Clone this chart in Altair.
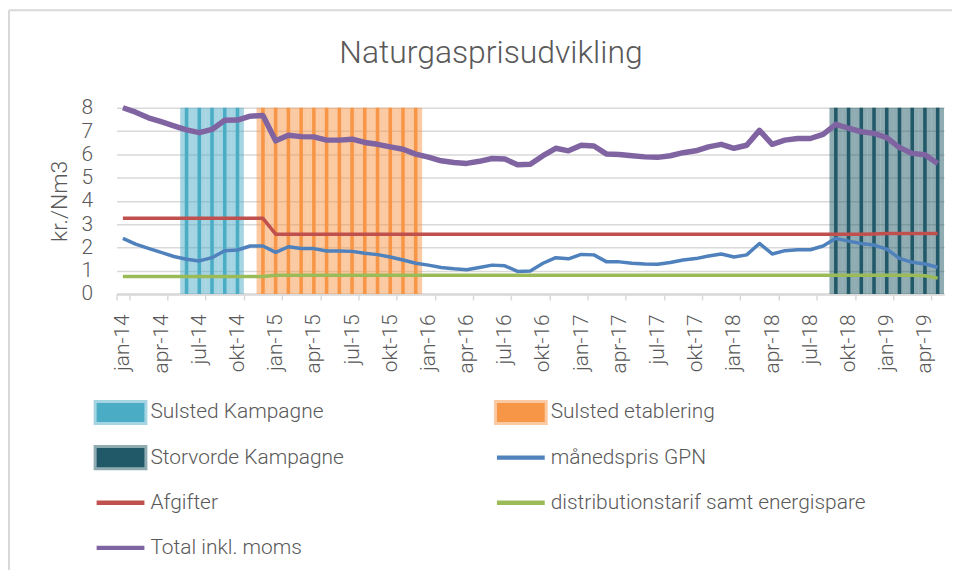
import altair as alt
import pandas as pd

FONT = "Roboto"
GRAY = "#595959"
LIGHTGRAY = "#D9D9D9"

titel = "Naturgasprisudvikling"

maaneder = ["jan", "feb", "mar", "apr", "maj", "jun", "jul", "aug", "sep", "okt", "nov", "dec"]
aar = ["14", "15", "16", "17", "18", "19"]
months = [f"{m}-{y}" for y in aar for m in maaneder][:65]

serier = ["Sulsted Kampagne", "Sulsted etablering", "Storvorde Kampagne",
          "månedspris GPN", "Afgifter", "distributionstarif samt energispare", "Total inkl. moms"]
farver = ["#4BACC6", "#F79646", "#215968", "#4F81BD", "#C0504D", "#9BBB59", "#8064A2"]

# legend grid (2 columns, row-major like the original)
legend_kolonne = [0, 1, 0, 1, 0, 1, 0]
legend_raekke = [0, 0, 1, 1, 2, 2, 3]
legend_type = ["bar", "bar", "bar", "line", "line", "line", "line"]

# campaign periods (months covered by the shaded columns, height = axis max 8)
sulsted_kampagne = ["jun-14", "jul-14", "aug-14", "sep-14", "okt-14"]
sulsted_etablering = ["dec-14", "jan-15", "feb-15", "mar-15", "apr-15", "maj-15", "jun-15",
                      "jul-15", "aug-15", "sep-15", "okt-15", "nov-15", "dec-15"]
storvorde_kampagne = ["sep-18", "okt-18", "nov-18", "dec-18", "jan-19", "feb-19", "mar-19",
                      "apr-19", "maj-19"]
kampagne_hoejde = 8

maanedspris_gpn = [2.39, 2.14, 1.96, 1.79, 1.61, 1.49, 1.42, 1.56, 1.86, 1.89, 2.06, 2.06,
                   1.79, 2.03, 1.95, 1.95, 1.85, 1.85, 1.83, 1.75, 1.69, 1.59, 1.46, 1.32,
                   1.24, 1.14, 1.08, 1.04, 1.14, 1.24, 1.21, 0.97, 0.99, 1.32, 1.56, 1.51,
                   1.70, 1.68, 1.38, 1.38, 1.32, 1.29, 1.28, 1.35, 1.46, 1.52, 1.63, 1.72,
                   1.59, 1.68, 2.17, 1.72, 1.86, 1.90, 1.90, 2.06, 2.39, 2.27, 2.17, 2.10,
                   1.93, 1.53, 1.36, 1.29, 1.15]
afgifter = [3.25, 3.25, 3.25, 3.25, 3.25, 3.25, 3.25, 3.25, 3.25, 3.25, 3.25, 3.25,
            2.57, 2.57, 2.57, 2.57, 2.57, 2.57, 2.57, 2.57, 2.57, 2.57, 2.57, 2.57,
            2.57, 2.57, 2.57, 2.57, 2.57, 2.57, 2.57, 2.57, 2.57, 2.57, 2.57, 2.57,
            2.57, 2.57, 2.57, 2.57, 2.57, 2.57, 2.57, 2.57, 2.57, 2.57, 2.57, 2.57,
            2.57, 2.57, 2.57, 2.57, 2.57, 2.57, 2.57, 2.57, 2.57, 2.57, 2.57, 2.58,
            2.60, 2.60, 2.60, 2.60, 2.60]
distribution = [0.75, 0.75, 0.75, 0.75, 0.75, 0.75, 0.75, 0.75, 0.75, 0.75, 0.75, 0.75,
                0.80, 0.80, 0.80, 0.80, 0.80, 0.80, 0.80, 0.80, 0.80, 0.80, 0.80, 0.80,
                0.80, 0.80, 0.80, 0.80, 0.80, 0.80, 0.80, 0.80, 0.80, 0.80, 0.80, 0.80,
                0.80, 0.80, 0.80, 0.80, 0.80, 0.80, 0.80, 0.80, 0.80, 0.80, 0.80, 0.80,
                0.80, 0.80, 0.80, 0.80, 0.80, 0.80, 0.80, 0.80, 0.80, 0.80, 0.80, 0.80,
                0.80, 0.80, 0.80, 0.78, 0.68]
total = [8.00, 7.81, 7.57, 7.40, 7.22, 7.05, 6.93, 7.07, 7.46, 7.47, 7.64, 7.67,
         6.58, 6.82, 6.76, 6.75, 6.61, 6.61, 6.65, 6.51, 6.43, 6.32, 6.22, 6.01,
         5.88, 5.72, 5.65, 5.61, 5.70, 5.82, 5.80, 5.55, 5.57, 5.94, 6.26, 6.15,
         6.39, 6.36, 6.01, 5.99, 5.94, 5.89, 5.87, 5.94, 6.07, 6.15, 6.32, 6.43,
         6.26, 6.39, 7.03, 6.43, 6.61, 6.68, 6.68, 6.86, 7.29, 7.12, 6.97, 6.90,
         6.72, 6.29, 6.04, 5.98, 5.61]

# ---- tables ----
bar_rows = []
for navn, periode in [("Sulsted Kampagne", sulsted_kampagne),
                      ("Sulsted etablering", sulsted_etablering),
                      ("Storvorde Kampagne", storvorde_kampagne)]:
    for m in periode:
        bar_rows.append({"maaned": m, "serie": navn, "vaerdi": kampagne_hoejde})
bars_df = pd.DataFrame(bar_rows)

thin_rows, thick_rows = [], []
for navn, vals in [("månedspris GPN", maanedspris_gpn), ("Afgifter", afgifter),
                   ("distributionstarif samt energispare", distribution)]:
    for m, v in zip(months, vals):
        thin_rows.append({"maaned": m, "serie": navn, "vaerdi": v})
for m, v in zip(months, total):
    thick_rows.append({"maaned": m, "serie": "Total inkl. moms", "vaerdi": v})
thin_df = pd.DataFrame(thin_rows)
thick_df = pd.DataFrame(thick_rows)

legend_df = pd.DataFrame({"serie": serier, "kol": legend_kolonne,
                          "raekke": legend_raekke, "type": legend_type})

color = alt.Color("serie:N", scale=alt.Scale(domain=serier, range=farver), legend=None)
x = alt.X("maaned:O", sort=months,
          scale=alt.Scale(domain=months, paddingInner=0, paddingOuter=0),
          axis=alt.Axis(title=None, values=months[::3], tickBand="extent", labelAngle=270,
                        labelFontSize=21, labelPadding=14, tickSize=6, grid=False,
                        domainColor=LIGHTGRAY, domainWidth=2.5, tickColor=LIGHTGRAY, tickWidth=1.5))
y = alt.Y("vaerdi:Q", scale=alt.Scale(domain=[0, 8], nice=False),
          axis=alt.Axis(title="kr./Nm3", values=[0, 1, 2, 3, 4, 5, 6, 7, 8], domain=False, ticks=False,
                        labelFontSize=21, labelPadding=24, titleFontSize=23, titlePadding=10,
                        gridColor=LIGHTGRAY, gridWidth=1.5))

light = alt.Chart(bars_df).mark_bar(opacity=0.5).encode(x=x, y=y, color=color)
stripes = alt.Chart(bars_df).mark_bar(width=alt.RelativeBandSize(0.28)).encode(x=x, y=y, color=color)
thin = alt.Chart(thin_df).mark_line(strokeWidth=3.5, strokeJoin="round").encode(x=x, y=y, color=color)
thick = alt.Chart(thick_df).mark_line(strokeWidth=5.5, strokeJoin="round").encode(x=x, y=y, color=color)
main = alt.layer(light, stripes, thin, thick)

# ---- legend drawn as its own layer with its own position scales ----
lx = alt.X("kol:O", scale=alt.Scale(type="point", domain=[0, 1], range=[4, 406], padding=0), axis=None)
ly = alt.Y("raekke:O", scale=alt.Scale(type="point", domain=[0, 1, 2, 3], range=[306, 442], padding=0), axis=None)
lstroke = alt.Stroke("serie:N", scale=alt.Scale(domain=serier, range=farver), legend=None)

leg_bar = alt.Chart(legend_df).transform_filter("datum.type == 'bar'").mark_point(
    shape="M-1,-0.4H1V0.4H-1Z", size=2304, filled=True, opacity=1,
    strokeWidth=6, strokeOpacity=0.5
).encode(x=lx, y=ly, color=color, stroke=lstroke)
leg_line = alt.Chart(legend_df).transform_filter("datum.type == 'line'").mark_point(
    shape="M-1,-0.09H1V0.09H-1Z", size=2304, filled=True, opacity=1, strokeWidth=0
).encode(x=lx, y=ly, color=color)
leg_text = alt.Chart(legend_df).mark_text(
    align="left", baseline="middle", dx=30, fontSize=21, font=FONT, fontWeight=300, color=GRAY
).encode(x=lx, y=ly, text="serie:N")

# chart title and chart-area frame (top and left edges, as in the original chart border)
ramme = pd.DataFrame({"titel": [titel]})
title_mark = alt.Chart(ramme).mark_text(
    align="center", baseline="alphabetic", fontSize=32, font=FONT, fontWeight=300, color=GRAY
).encode(text="titel:N", x=alt.value(376), y=alt.value(-45))
frame_top = alt.Chart(ramme).mark_rule(color=LIGHTGRAY, strokeWidth=2).encode(
    x=alt.value(-108), x2=alt.value(845), y=alt.value(-98))
frame_left = alt.Chart(ramme).mark_rule(color=LIGHTGRAY, strokeWidth=2).encode(
    x=alt.value(-108), y=alt.value(-98), y2=alt.value(480))

legend_layer = alt.layer(leg_bar, leg_line, leg_text, title_mark, frame_top, frame_left)

chart = alt.layer(main, legend_layer).resolve_scale(x="independent", y="independent").properties(
    width=831, height=187,
    autosize=alt.AutoSizeParams(type="none"),
    padding={"left": 109, "top": 99, "right": 8, "bottom": 276},
).configure_view(stroke=None).configure_axis(
    labelFont=FONT, titleFont=FONT, labelColor=GRAY, titleColor=GRAY,
    labelFontWeight=300, titleFontWeight=300,
)

chart.save("out.html", embed_options={"renderer": "svg", "actions": False})
